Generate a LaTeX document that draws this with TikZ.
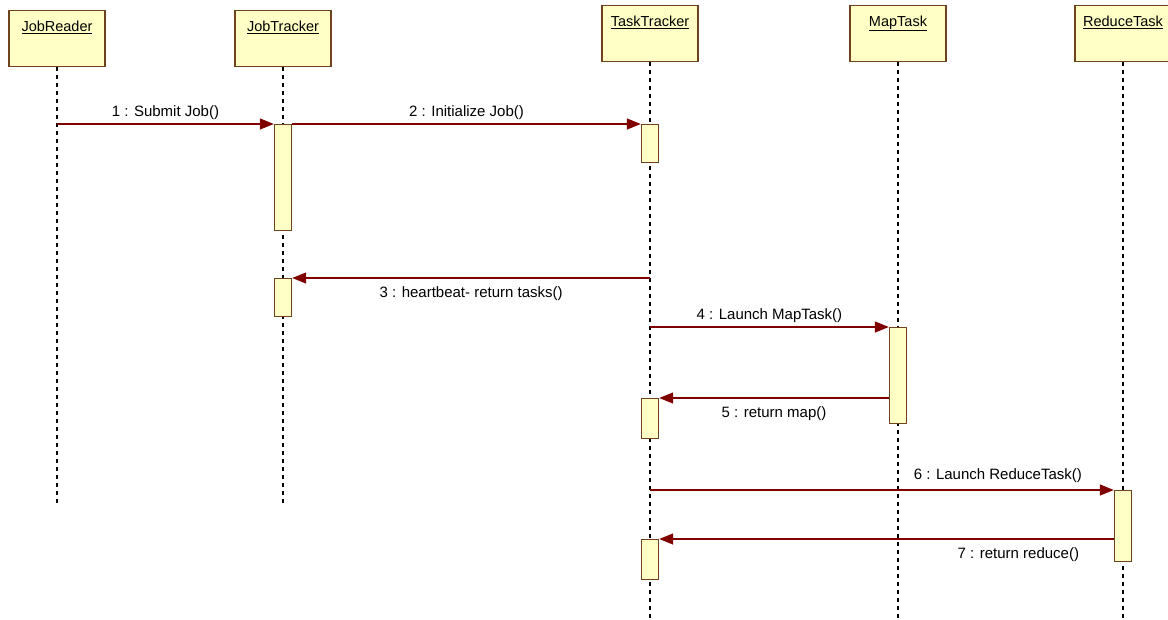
\documentclass[tikz,border=0pt]{standalone}
\usepackage{fontspec}
\setmainfont{Liberation Sans}
\usepackage{tikz}
\usetikzlibrary{arrows.meta,positioning}
\definecolor{umlfill}{RGB}{255,255,198}
\definecolor{umlbrown}{RGB}{110,66,28}
\definecolor{msgred}{RGB}{128,0,0}
\tikzset{
  objbox/.style={rectangle, draw=umlbrown, fill=umlfill, line width=1.4pt, minimum width=96pt, inner xsep=8pt, inner ysep=10pt, text depth=25pt, anchor=north, font=\fontsize{14.5}{16}\selectfont},
  actbox/.style={rectangle, draw=umlbrown, fill=umlfill, line width=1.4pt, minimum width=17pt, inner sep=0pt, anchor=north},
  lifeline/.style={line width=1.2pt, dash pattern=on 4pt off 4pt},
  msg/.style={-{Triangle[length=14pt, width=11pt]}, line width=1.3pt, color=msgred},
  msglabel/.style={font=\fontsize{15}{17}\selectfont, text=black},
  belowlabel/.style={msglabel, below=5pt},
}

\begin{document}
\begin{tikzpicture}[x=1pt, y=-1pt]
  \useasboundingbox (0,0) rectangle (1168,619);

  % Objects
  \node[objbox] (jobreader) at (57,10) {\underline{JobReader}};
  \node[objbox] (jobtracker) at (283,10) {\underline{JobTracker}};
  \node[objbox] (tasktracker) at (650,5) {\underline{TaskTracker}};
  \node[objbox] (maptask) at (898,5) {\underline{MapTask}};
  \node[objbox] (reducetask) at (1123,5) {\underline{ReduceTask}};

  % Lifelines
  \coordinate (jrend) at (57,503);
  \coordinate (jtend) at (283,503);
  \coordinate (ttend) at (650,619);
  \coordinate (mtend) at (898,619);
  \coordinate (rtend) at (1123,619);
  \draw[lifeline] (jobreader.south) -- (jrend);
  \draw[lifeline] (jobtracker.south) -- (jtend);
  \draw[lifeline] (tasktracker.south) -- (ttend);
  \draw[lifeline] (maptask.south) -- (mtend);
  \draw[lifeline] (reducetask.south) -- (rtend);

  % Activations
  \node[actbox, minimum height=106pt] (jtact1) at (jobtracker.south |- 0,124) {};
  \node[actbox, minimum height=38pt] (ttact1) at (tasktracker.south |- 0,124) {};
  \node[actbox, minimum height=38pt] (jtact2) at (jobtracker.south |- 0,278) {};
  \node[actbox, minimum height=96pt] (mtact) at (maptask.south |- 0,327) {};
  \node[actbox, minimum height=40pt] (ttact2) at (tasktracker.south |- 0,398) {};
  \node[actbox, minimum height=71pt] (rtact) at (reducetask.south |- 0,490) {};
  \node[actbox, minimum height=40pt] (ttact3) at (tasktracker.south |- 0,539) {};

  % Messages
  \draw[msg] (jobreader.south |- jtact1.north west) -- (jtact1.north west)
    node[msglabel, above, pos=0.5] {1 : Submit Job()};
  \draw[msg] (jtact1.north east) -- (ttact1.north west)
    node[msglabel, above, pos=0.5] {2 : Initialize Job()};
  \draw[msg] (tasktracker.south |- jtact2.north east) -- (jtact2.north east)
    node[belowlabel, pos=0.5] {3 : heartbeat- return tasks()};
  \draw[msg] (tasktracker.south |- mtact.north west) -- (mtact.north west)
    node[msglabel, above, pos=0.5] {4 : Launch MapTask()};
  \draw[msg] (mtact.west |- ttact2.north east) -- (ttact2.north east)
    node[belowlabel, pos=0.5] {5 : return map()};
  \draw[msg] (tasktracker.south |- rtact.north west) -- (rtact.north west)
    node[msglabel, above=3pt, pos=0.75] {6 : Launch ReduceTask()};
  \draw[msg] (rtact.west |- ttact3.north east) -- (ttact3.north east)
    node[belowlabel, pos=0.21] {7 : return reduce()};

\end{tikzpicture}
\end{document}
